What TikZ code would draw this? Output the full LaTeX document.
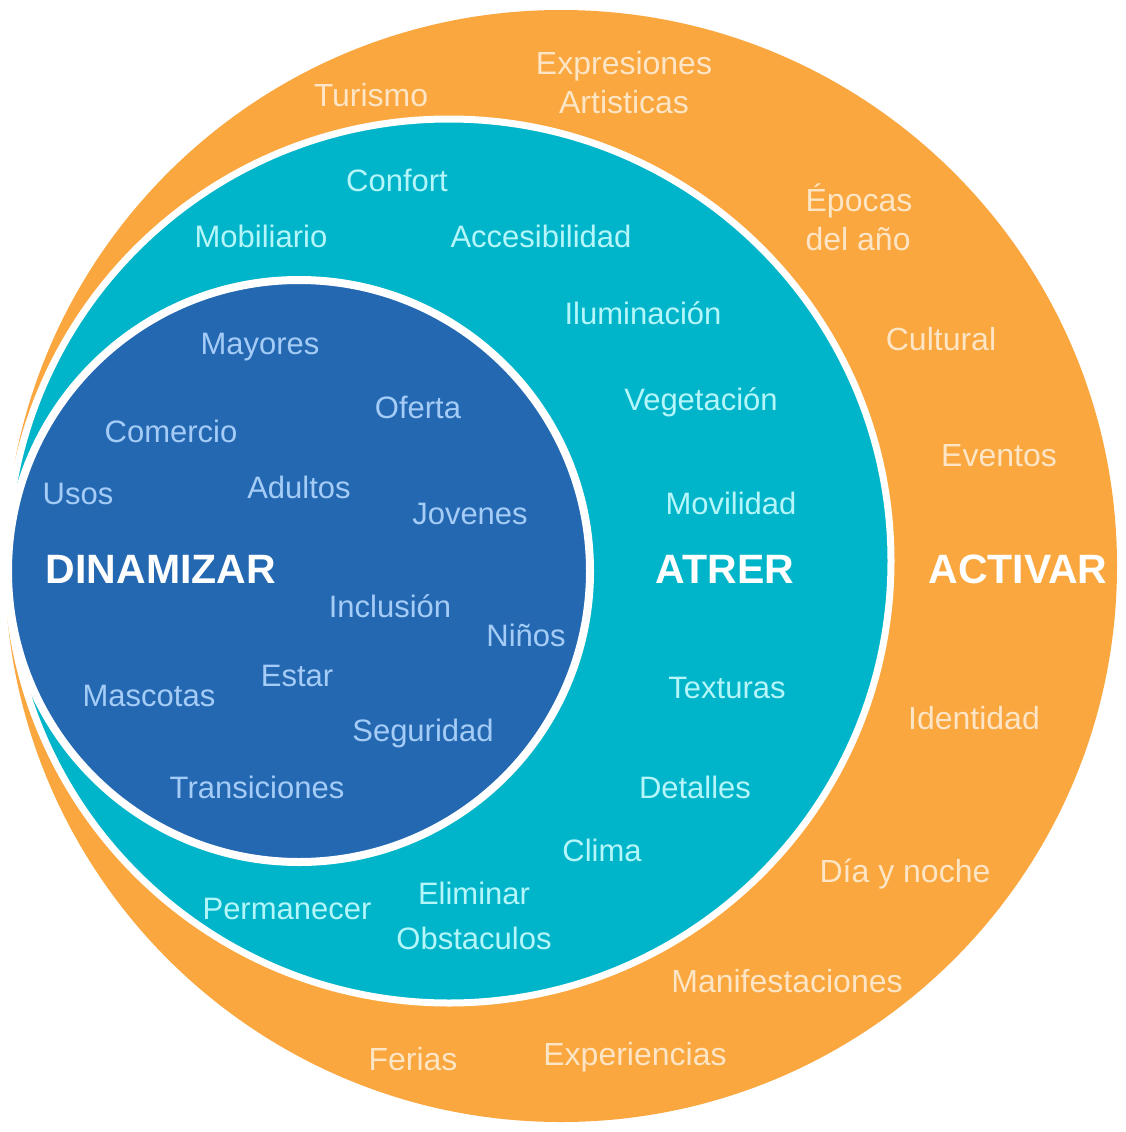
\documentclass[tikz,border=0pt]{standalone}
\usepackage{fontspec}
\setmainfont{Liberation Sans}
\definecolor{orangeC}{HTML}{F9A73E}
\definecolor{tealC}{HTML}{00B5C9}
\definecolor{blueC}{HTML}{2468B2}
\definecolor{orangeT}{HTML}{FDE5C5}
\definecolor{tealT}{HTML}{B5F6FA}
\definecolor{blueT}{HTML}{A4CCF6}
\tikzset{
  otext/.style={text=orangeT, font=\fontsize{32}{39}\selectfont, align=center, inner sep=0pt},
  ttext/.style={text=tealT, font=\fontsize{31}{45}\selectfont, align=center, inner sep=0pt},
  btext/.style={text=blueT, font=\fontsize{31}{38}\selectfont, align=center, inner sep=0pt},
  title/.style={text=white, font=\fontsize{41}{48}\selectfont\bfseries, inner sep=0pt}
}
\begin{document}
\begin{tikzpicture}[x=1pt,y=-1pt]
\useasboundingbox (0,0) rectangle (1125,1132);
\fill[white] (0,0) rectangle (1125,1132);
% circles
\fill[orangeC] (561,566) circle[radius=556pt];
\filldraw[fill=tealC, draw=white, line width=7pt] (449,561) circle[radius=442pt];
\filldraw[fill=blueC, draw=white, line width=8pt] (299,571) circle[radius=291pt];
% orange ring
\node[otext] (turismo) at (371,95) {Turismo};
\node[otext] (expr) at (624,83) {Expresiones\\Artisticas};
\node[otext, align=left] (epocas) at (859,217) {Épocas\\del año};
\node[otext] (cultural) at (941,339) {Cultural};
\node[otext] (eventos) at (999,456) {Eventos};
\node[title] (activar) at (1018,569) {ACTIVAR};
\node[otext] (identidad) at (974,718) {Identidad};
\node[otext] (dia) at (905,874) {Día y noche};
\node[otext] (manif) at (787,981) {Manifestaciones};
\node[otext] (exper) at (635,1057) {Experiencias};
\node[otext] (ferias) at (413,1059) {Ferias};
% teal ring
\node[ttext] (confort) at (397,180) {Confort};
\node[ttext] (mobil) at (261,236) {Mobiliario};
\node[ttext] (acces) at (541,236) {Accesibilidad};
\node[ttext] (ilum) at (643,313) {Iluminación};
\node[ttext] (veget) at (701,402) {Vegetación};
\node[ttext] (movil) at (731,503) {Movilidad};
\node[title] (atrer) at (725,569) {ATRER};
\node[ttext] (textur) at (727,688) {Texturas};
\node[ttext] (detal) at (695,787) {Detalles};
\node[ttext] (clima) at (602,850) {Clima};
\node[ttext] (perm) at (287,909) {Permanecer};
\node[ttext] (elim) at (474,916) {Eliminar\\Obstaculos};
% blue core
\node[btext] (mayores) at (260,347) {Mayores};
\node[btext] (oferta) at (418,407) {Oferta};
\node[btext] (comercio) at (171,431) {Comercio};
\node[btext] (usos) at (78,494) {Usos};
\node[btext] (adultos) at (299,487) {Adultos};
\node[btext] (jovenes) at (470,514) {Jovenes};
\node[title] (dinam) at (161,569) {DINAMIZAR};
\node[btext] (inclus) at (390,606) {Inclusión};
\node[btext] (ninos) at (526,635) {Niños};
\node[btext] (estar) at (297,676) {Estar};
\node[btext] (masc) at (149,696) {Mascotas};
\node[btext] (segur) at (423,733) {Seguridad};
\node[btext] (trans) at (257,787) {Transiciones};
\end{tikzpicture}
\end{document}
